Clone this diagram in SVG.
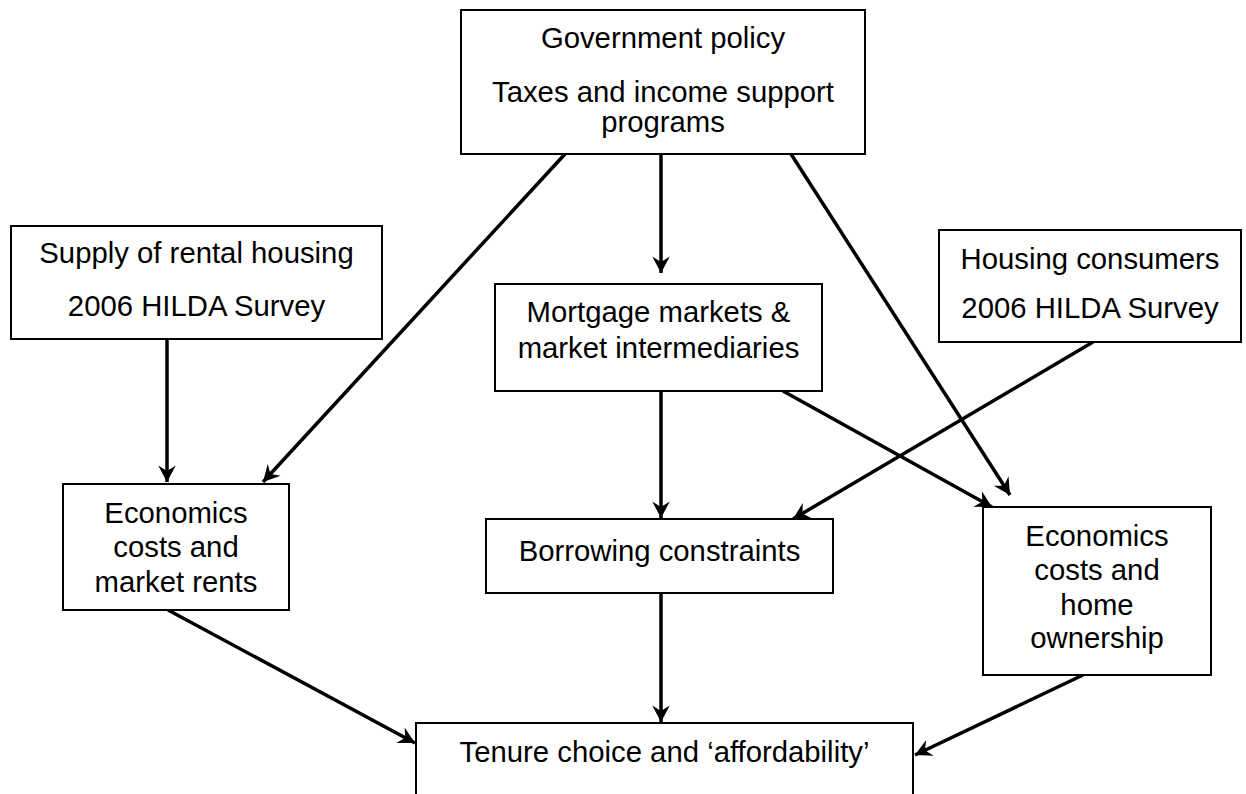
<svg xmlns="http://www.w3.org/2000/svg" width="1246" height="794" viewBox="0 0 1246 794">
  <style>
    .box { fill: #ffffff; stroke: #000000; stroke-width: 2; }
    .label { font-family: "Liberation Sans", Arial, sans-serif; font-size: 29.3px; fill: #000000; text-anchor: middle; }
    .link { fill: none; stroke: #000000; stroke-width: 3.5; marker-end: url(#arrow); }
  </style>
  <defs>
    <marker id="arrow" markerUnits="userSpaceOnUse" markerWidth="22" markerHeight="22" viewBox="-17 -10 19 20" refX="0" refY="0" orient="auto">
      <path d="M0,0 L-15,-8 L-10,0 L-15,8 Z" fill="#000000"/>
    </marker>
  </defs>

  <rect width="1246" height="794" fill="#ffffff"/>

  <!-- connectors -->
  <g id="connectors">
    <line class="link" x1="565" y1="154" x2="263" y2="482"/>
    <line class="link" x1="661" y1="154" x2="661" y2="273"/>
    <line class="link" x1="791" y1="154" x2="1010" y2="495"/>
    <line class="link" x1="167" y1="339" x2="167" y2="482"/>
    <line class="link" x1="1093" y1="342" x2="793" y2="519"/>
    <line class="link" x1="783" y1="391" x2="992" y2="507"/>
    <line class="link" x1="661" y1="391" x2="661" y2="518"/>
    <line class="link" x1="661" y1="593" x2="661" y2="722"/>
    <line class="link" x1="168" y1="610" x2="415" y2="743"/>
    <line class="link" x1="1083" y1="675" x2="915" y2="755"/>
  </g>

  <g id="government-policy">
    <rect class="box" x="461" y="10" width="404" height="144"/>
    <text class="label" x="663" y="48">Government policy</text>
    <text class="label" x="663" y="102">Taxes and income support</text>
    <text class="label" x="663" y="132">programs</text>
  </g>

  <g id="rental-supply">
    <rect class="box" x="11" y="226" width="371" height="113"/>
    <text class="label" x="196.5" y="263">Supply of rental housing</text>
    <text class="label" x="196.5" y="316">2006 HILDA Survey</text>
  </g>

  <g id="housing-consumers">
    <rect class="box" x="939" y="230" width="302" height="112"/>
    <text class="label" x="1090" y="269">Housing consumers</text>
    <text class="label" x="1090" y="318">2006 HILDA Survey</text>
  </g>

  <g id="mortgage-markets">
    <rect class="box" x="495" y="284" width="327" height="107"/>
    <text class="label" x="658.5" y="322">Mortgage markets &amp;</text>
    <text class="label" x="658.5" y="358">market intermediaries</text>
  </g>

  <g id="rental-economics">
    <rect class="box" x="63" y="484" width="226" height="126"/>
    <text class="label" x="176" y="523">Economics</text>
    <text class="label" x="176" y="557">costs and</text>
    <text class="label" x="176" y="592">market rents</text>
  </g>

  <g id="borrowing-constraints">
    <rect class="box" x="486" y="519" width="347" height="74"/>
    <text class="label" x="659.5" y="561">Borrowing constraints</text>
  </g>

  <g id="ownership-economics">
    <rect class="box" x="983" y="507" width="228" height="168"/>
    <text class="label" x="1097" y="546">Economics</text>
    <text class="label" x="1097" y="580">costs and</text>
    <text class="label" x="1097" y="615">home</text>
    <text class="label" x="1097" y="648">ownership</text>
  </g>

  <g id="tenure-choice">
    <rect class="box" x="416" y="723" width="497" height="90"/>
    <text class="label" x="664.5" y="762">Tenure choice and ‘affordability’</text>
  </g>
</svg>
